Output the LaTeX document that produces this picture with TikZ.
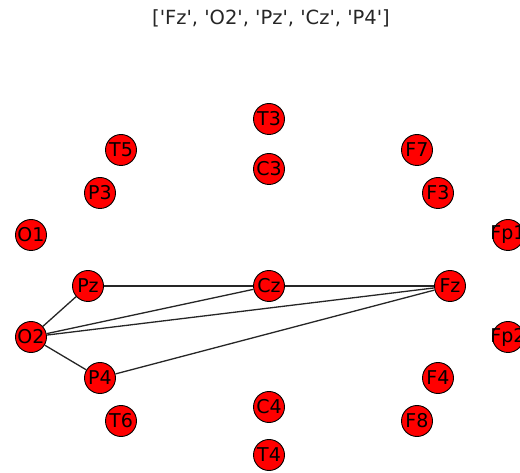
\documentclass[tikz,border=0pt]{standalone}
\usepackage{fontspec}
\setmainfont{DejaVu Sans}
\usepackage{tikz}
\usetikzlibrary{positioning}
\definecolor{titlegray}{HTML}{262626}
\tikzset{
	electrode/.style={circle, fill=red, draw=black, line width=0.9pt,
		minimum size=31pt, inner sep=0pt, font=\fontsize{19}{21}\selectfont}
}
\tikzset{
	link/.style={line width=1.3pt, black!85}
}
\newcommand{\elab}[1]{\makebox[0pt]{#1}}
\newcommand{\sq}[1]{\textquotesingle#1\textquotesingle}

\begin{document}
\begin{tikzpicture}[x=1pt, y=-1pt]
      \clip (0,0) rectangle (520,473);
      \node[font=\fontsize{19.5}{22}\selectfont, text=titlegray] (title) at (271,18)
        {[\sq{Fz}, \sq{O2}, \sq{Pz}, \sq{Cz}, \sq{P4}]};
      \foreach \x/\y/\l in {
        269/119/T3, 269/169/C3, 121/150/T5, 417/150/F7,
        100/193/P3, 438/193/F3, 31/235/O1, 508/235/Fp1,
        88/286/Pz, 269/286/Cz, 450/286/Fz,
        31/337/O2, 508/337/Fp2, 100/378/P4, 438/378/F4,
        269/407/C4, 121/421/T6, 417/421/F8, 269/455/T4}
        \node[electrode] (\l) at (\x,\y) {\elab{\l}};
      % connections between the selected channels
      \foreach \a/\b in {O2/Pz, O2/Cz, O2/Fz, O2/P4, Pz/Cz, Cz/Fz, P4/Fz}
        \draw[link] (\a) -- (\b);
    \end{tikzpicture}
\end{document}
